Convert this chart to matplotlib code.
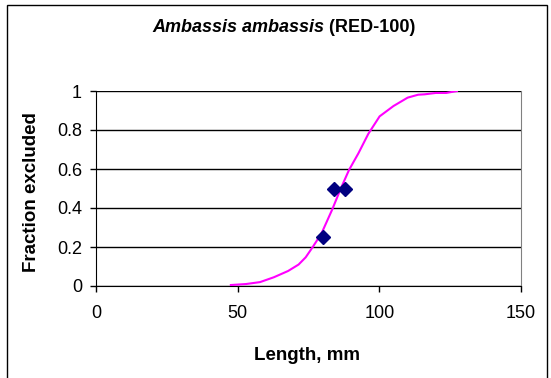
import matplotlib
matplotlib.use("Agg")
import matplotlib.pyplot as plt
from matplotlib.patches import Rectangle

plt.rcParams['font.family'] = ['Liberation Sans', 'DejaVu Sans']

# fitted selection curve
curve_len = [47.6, 52.9, 57.9, 62.8, 67.8, 71.5, 74.0, 76.5, 79.6, 83.3, 86.4,
             89.3, 92.6, 96.1, 100.1, 105.0, 110.0, 113.7, 116.0, 119.9, 123.6, 127.4]
curve_frac = [0.005, 0.01, 0.02, 0.045, 0.077, 0.11, 0.147, 0.2, 0.27, 0.39, 0.50,
              0.595, 0.68, 0.78, 0.87, 0.923, 0.966, 0.981, 0.983, 0.99, 0.99, 1.0]

# observed points
obs_len = [80, 84, 88]
obs_frac = [0.25, 0.5, 0.5]

xticks = [0, 50, 100, 150]
yticks = [0, 0.2, 0.4, 0.6, 0.8, 1]
ytick_labels = ['0', '0.2', '0.4', '0.6', '0.8', '1']

W, H = 551, 378
fig = plt.figure(figsize=(W / 100, H / 100), dpi=100)
ax = fig.add_axes([96 / W, 1 - 286 / H, 425 / W, 195 / H])

ax.plot(curve_len, curve_frac, color='#FF00FF', lw=1.5, zorder=3)
ax.plot(obs_len, obs_frac, 'D', color='#000080', ms=7, zorder=4)

ax.set_xlim(0, 150)
ax.set_ylim(0, 1)
ax.set_xticks(xticks)
ax.set_yticks(yticks)
ax.set_yticklabels(ytick_labels)
ax.tick_params(labelsize=13, length=4, width=1, color='black', direction='out')
ax.tick_params(axis='x', pad=10)
ax.tick_params(axis='y', pad=6)
ax.yaxis.grid(True, color='black', lw=1)
ax.set_axisbelow(True)
for side in ['top', 'right']:
    ax.spines[side].set_color('#808080')
for side in ['left', 'bottom']:
    ax.spines[side].set_color('black')
ax.spines['top'].set_visible(False)

ax.set_xlabel('Length, mm', fontsize=13.5, fontweight='bold')
ax.set_ylabel('Fraction excluded', fontsize=13.5, fontweight='bold')
ax.xaxis.set_label_coords((307 - 96) / 425, -(355 - 286) / 195)
ax.yaxis.set_label_coords(-(96 - 32) / 425, (286 - 192) / 195)
ax.xaxis.label.set_va('center')
ax.yaxis.label.set_va('center')

# title: italic species name + plain code
t1 = fig.text(0, 1 - 27 / H, 'Ambassis ambassis', fontsize=13, fontweight='bold',
              fontstyle='italic', ha='left', va='center')
t2 = fig.text(0, 1 - 27 / H, ' (RED-100)', fontsize=13, fontweight='bold',
              ha='left', va='center')
fig.canvas.draw()
r = fig.canvas.get_renderer()
w1 = t1.get_window_extent(r).width
w2 = t2.get_window_extent(r).width
x0 = 284 - (w1 + w2) / 2
t1.set_x(x0 / W)
t2.set_x((x0 + w1) / W)

# chart area border
fig.patches.append(Rectangle((7 / W, -0.1), (547 - 7) / W, 1.1 - 5 / H,
                             transform=fig.transFigure, fill=False,
                             edgecolor='black', lw=1))

fig.savefig('out.png', dpi=100)
